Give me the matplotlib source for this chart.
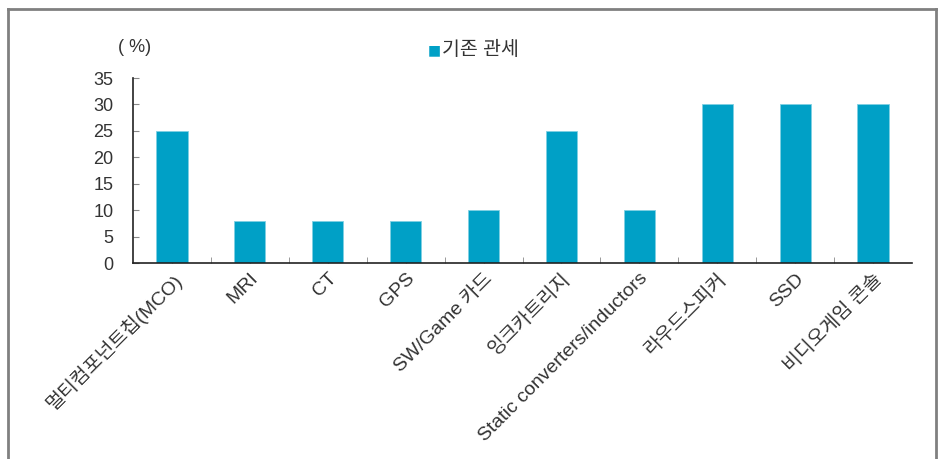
import matplotlib
matplotlib.use("Agg")
import matplotlib.pyplot as plt
from matplotlib.lines import Line2D

categories = ["멀티컴포넌트칩(MCO)", "MRI", "CT", "GPS", "SW/Game 카드",
              "잉크카트리지", "Static converters/inductors", "라우드스피커",
              "SSD", "비디오게임 콘솔"]
tariff = [25, 8, 8, 8, 10, 25, 10, 30, 30, 30]
yticks = [0, 5, 10, 15, 20, 25, 30, 35]

latin_kr = ["Liberation Sans", "Noto Sans CJK KR", "DejaVu Sans"]
plt.rcParams["font.family"] = latin_kr
text_color = "#333333"
bar_color = "#00A0C6"

fig = plt.figure(figsize=(9.38, 4.59), dpi=100)
ax = fig.add_axes([133 / 938, 1 - 263 / 459, 779 / 938, 185 / 459])

x = list(range(len(categories)))
ax.bar(x, tariff, width=0.4, color=bar_color, edgecolor="#7fd0e3", linewidth=0.6, zorder=2)

ax.set_xlim(-0.5, len(categories) - 0.5)
ax.set_ylim(0, 35)
ax.set_yticks(yticks)
ax.set_yticklabels([str(v) for v in yticks], fontsize=13, color=text_color)
ax.tick_params(axis="y", direction="in", length=4, color="#888888", pad=14)

ax.set_xticks(x)
ax.set_xticks([i + 0.5 for i in x[:-1]], minor=True)
ax.tick_params(axis="x", which="both", direction="in", length=4, color="#888888", pad=5)
ax.set_xticklabels(categories, rotation=45, ha="right", rotation_mode="anchor",
                   fontsize=14, color=text_color)

for side in ["top", "right"]:
    ax.spines[side].set_visible(False)
ax.spines["left"].set_color("#222222")
ax.spines["bottom"].set_color("#222222")
ax.spines["left"].set_linewidth(1.2)
ax.spines["bottom"].set_linewidth(1.2)

fig.text(135 / 938, 1 - 47 / 459, "( %)", fontsize=13, color=text_color,
         ha="center", va="center")

# legend
fig.text(434 / 938, 1 - 50 / 459, "■", fontsize=10, color=bar_color,
         ha="center", va="center", family=["DejaVu Sans"])
fig.text(442 / 938, 1 - 50 / 459, "기존 관세", fontsize=14, color=text_color,
         ha="left", va="center")

# outer frame
frame_kw = dict(color="#808080", linewidth=2, transform=fig.transFigure)
fig.add_artist(Line2D([8 / 938, 8 / 938], [-0.1, 1 - 9 / 459], **frame_kw))
fig.add_artist(Line2D([8 / 938, 936 / 938], [1 - 9 / 459, 1 - 9 / 459], **frame_kw))
fig.add_artist(Line2D([936 / 938, 936 / 938], [-0.1, 1 - 9 / 459], **frame_kw))

fig.savefig("out.png", dpi=100)
